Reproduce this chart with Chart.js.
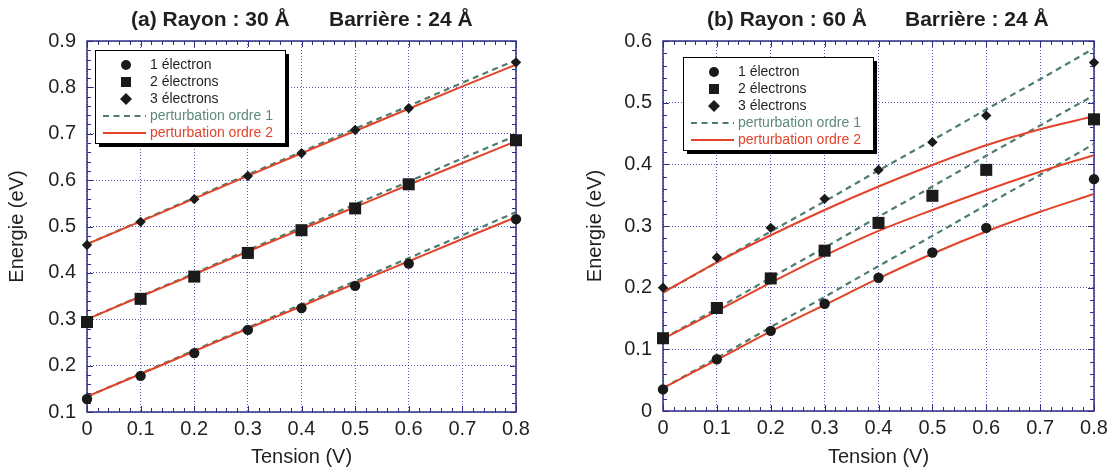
<!DOCTYPE html>
<html>
<head>
<meta charset="utf-8">
<script src="https://cdn.jsdelivr.net/npm/chart.js@4.4.0/dist/chart.umd.min.js"></script>
<style>
html, body { margin: 0; padding: 0; background: #fff; }
#wrap { position: relative; width: 1115px; height: 471px; }
.box { position: absolute; top: 0; height: 471px; }
</style>
</head>
<body>
<div id="wrap">
  <div class="box" style="left:0;width:560px"><canvas id="chartA" width="560" height="471"></canvas></div>
  <div class="box" style="left:560px;width:555px"><canvas id="chartB" width="555" height="471"></canvas></div>
</div>
<script>
// ===== données =====
var xTicks = [0, 0.1, 0.2, 0.3, 0.4, 0.5, 0.6, 0.7, 0.8];
var xTickLabels = ['0', '0.1', '0.2', '0.3', '0.4', '0.5', '0.6', '0.7', '0.8'];
var yTicksA = [0.1, 0.2, 0.3, 0.4, 0.5, 0.6, 0.7, 0.8, 0.9];
var yTickLabelsA = ['0.1', '0.2', '0.3', '0.4', '0.5', '0.6', '0.7', '0.8', '0.9'];
var yTicksB = [0, 0.1, 0.2, 0.3, 0.4, 0.5, 0.6];
var yTickLabelsB = ['0', '0.1', '0.2', '0.3', '0.4', '0.5', '0.6'];
var legendLabels = ['1 électron', '2 électrons', '3 électrons', 'perturbation ordre 1', 'perturbation ordre 2'];

// tensions des points mesurés (pas de point à 0.7)
var tensionPts = [0, 0.1, 0.2, 0.3, 0.4, 0.5, 0.6, 0.8];
// tensions des courbes
var tensionLine = [0, 0.1, 0.2, 0.3, 0.4, 0.5, 0.6, 0.7, 0.8];

// (a) Rayon 30 A
var a1e = [0.128, 0.178, 0.227, 0.277, 0.324, 0.372, 0.420, 0.516];
var a2e = [0.294, 0.344, 0.392, 0.443, 0.492, 0.539, 0.591, 0.686];
var a3e = [0.460, 0.510, 0.559, 0.609, 0.658, 0.708, 0.755, 0.854];
var a1eOrdre1 = [0.133, 0.183, 0.233, 0.282, 0.332, 0.382, 0.432, 0.481, 0.531];
var a1eOrdre2 = [0.133, 0.182, 0.231, 0.280, 0.328, 0.377, 0.425, 0.473, 0.520];
var a2eOrdre1 = [0.300, 0.350, 0.399, 0.449, 0.498, 0.548, 0.597, 0.647, 0.696];
var a2eOrdre2 = [0.300, 0.349, 0.397, 0.446, 0.494, 0.542, 0.590, 0.637, 0.684];
var a3eOrdre1 = [0.462, 0.512, 0.562, 0.612, 0.661, 0.711, 0.760, 0.810, 0.859];
var a3eOrdre2 = [0.462, 0.511, 0.560, 0.609, 0.658, 0.706, 0.754, 0.802, 0.849];

// (b) Rayon 60 A
var b1e = [0.035, 0.084, 0.130, 0.174, 0.216, 0.257, 0.297, 0.376];
var b2e = [0.118, 0.167, 0.215, 0.260, 0.305, 0.349, 0.391, 0.473];
var b3e = [0.200, 0.249, 0.297, 0.344, 0.391, 0.436, 0.479, 0.565];
var b1eOrdre1 = [0.037, 0.086, 0.136, 0.185, 0.235, 0.284, 0.334, 0.383, 0.433];
var b1eOrdre2 = [0.037, 0.083, 0.129, 0.172, 0.215, 0.255, 0.291, 0.323, 0.352];
var b2eOrdre1 = [0.117, 0.166, 0.216, 0.265, 0.315, 0.364, 0.414, 0.463, 0.512];
var b2eOrdre2 = [0.117, 0.162, 0.208, 0.252, 0.292, 0.326, 0.358, 0.388, 0.415];
var b3eOrdre1 = [0.192, 0.241, 0.291, 0.340, 0.390, 0.439, 0.489, 0.538, 0.588];
var b3eOrdre2 = [0.192, 0.241, 0.285, 0.326, 0.364, 0.399, 0.431, 0.457, 0.478];

// ===== styles =====
var sFont = "'Liberation Sans', Arial, Helvetica, sans-serif";
var textColor = '#231f20';
var frameColor = '#2e2e85';
var gridColor = '#5a5abb';
var redColor = '#e2432b';
var greenColor = '#4f7d6d';
var greenText = '#5d8a78';
var markColor = '#1a1a1a';

function toXY(xs, ys) {
    var r = [];
    for (var i = 0; i < ys.length; i++) r.push({x: xs[i], y: ys[i]});
    return r;
}

// dessine un marqueur de légende
function drawMark(ctx, style, x, y) {
    ctx.fillStyle = markColor;
    ctx.beginPath();
    if (style === 'circle') {
        ctx.arc(x, y, 5, 0, Math.PI * 2);
    } else if (style === 'rect') {
        ctx.rect(x - 5, y - 5, 10, 10);
    } else {
        ctx.moveTo(x - 6, y); ctx.lineTo(x, y - 6); ctx.lineTo(x + 6, y); ctx.lineTo(x, y + 6);
        ctx.closePath();
    }
    ctx.fill();
}

// cadre, petites graduations, légende et titre
var decoPlugin = {
    id: 'deco',
    beforeDatasetsDraw: function (chart, args, opts) {
        var ctx = chart.ctx, a = chart.chartArea;
        var xs = chart.scales.x, ys = chart.scales.y;
        var i, p, len, n;
        ctx.save();
        ctx.strokeStyle = frameColor;
        ctx.lineWidth = 1;
        ctx.beginPath();
        n = Math.round((xs.max - xs.min) / 0.02);
        for (i = 0; i <= n; i++) {
            p = Math.round(xs.getPixelForValue(xs.min + i * 0.02)) + 0.5;
            len = (i % 5 === 0) ? 6 : 4;
            ctx.moveTo(p, a.bottom); ctx.lineTo(p, a.bottom - len);
            ctx.moveTo(p, a.top); ctx.lineTo(p, a.top + len);
        }
        n = Math.round((ys.max - ys.min) / 0.02);
        for (i = 0; i <= n; i++) {
            p = Math.round(ys.getPixelForValue(ys.min + i * 0.02)) + 0.5;
            len = (i % 5 === 0) ? 6 : 4;
            ctx.moveTo(a.left, p); ctx.lineTo(a.left + len, p);
            ctx.moveTo(a.right, p); ctx.lineTo(a.right - len, p);
        }
        ctx.stroke();
        ctx.lineWidth = 1.5;
        ctx.strokeRect(a.left, a.top, a.right - a.left, a.bottom - a.top);
        ctx.restore();
    },
    afterDraw: function (chart, args, opts) {
        var ctx = chart.ctx, a = chart.chartArea;
        ctx.save();
        // titre
        ctx.font = 'bold 21px ' + sFont;
        ctx.fillStyle = textColor;
        ctx.textBaseline = 'middle';
        ctx.textAlign = 'left';
        ctx.fillText(opts.title1, a.left + 44, 20);
        ctx.fillText(opts.title2, a.left + 242, 20);
        // légende
        var bx = a.left + opts.legX, by = a.top + opts.legY, bw = 190, bh = 93;
        ctx.fillStyle = '#000';
        ctx.fillRect(bx + 4, by + 4, bw, bh);
        ctx.fillStyle = '#fff';
        ctx.fillRect(bx, by, bw, bh);
        ctx.strokeStyle = '#000';
        ctx.lineWidth = 1;
        ctx.strokeRect(bx + 0.5, by + 0.5, bw, bh);
        ctx.font = '14px ' + sFont;
        var styles = ['circle', 'rect', 'diamond'];
        for (var i = 0; i < 5; i++) {
            var y = by + 15 + i * 17;
            if (i < 3) {
                drawMark(ctx, styles[i], bx + 31, y);
                ctx.fillStyle = textColor;
            } else {
                ctx.beginPath();
                ctx.lineWidth = 2.2;
                ctx.strokeStyle = i === 3 ? greenColor : redColor;
                ctx.setLineDash(i === 3 ? [6, 4.5] : []);
                ctx.moveTo(bx + 8, y); ctx.lineTo(bx + 51, y);
                ctx.stroke();
                ctx.setLineDash([]);
                ctx.fillStyle = i === 3 ? greenText : redColor;
            }
            ctx.fillText(legendLabels[i], bx + 55, y);
        }
        ctx.restore();
    }
};

function pointSet(label, ys, style, radius) {
    return {
        label: label, data: toXY(tensionPts, ys), showLine: false,
        pointStyle: style, pointRadius: radius, pointBackgroundColor: markColor,
        pointBorderColor: markColor, pointBorderWidth: 0, clip: false, order: 0
    };
}
function lineSet(label, ys, ordre) {
    return {
        label: label, data: toXY(tensionLine, ys), showLine: true, pointRadius: 0,
        borderColor: ordre === 1 ? greenColor : redColor, borderWidth: ordre === 1 ? 2.2 : 2,
        borderDash: ordre === 1 ? [6, 4.5] : [], cubicInterpolationMode: 'monotone',
        fill: false, order: ordre === 1 ? 2 : 1
    };
}

function makeChart(id, cfg) {
    var ctx = document.getElementById(id);
    return new Chart(ctx, {
        type: 'scatter',
        data: {
            datasets: [
                pointSet(legendLabels[0], cfg.p1, 'circle', 5.2),
                pointSet(legendLabels[1], cfg.p2, 'rect', 8.5),
                pointSet(legendLabels[2], cfg.p3, 'rectRot', 5.2),
                lineSet(legendLabels[4], cfg.l1o2, 2),
                lineSet(legendLabels[4], cfg.l2o2, 2),
                lineSet(legendLabels[4], cfg.l3o2, 2),
                lineSet(legendLabels[3], cfg.l1o1, 1),
                lineSet(legendLabels[3], cfg.l2o1, 1),
                lineSet(legendLabels[3], cfg.l3o1, 1)
            ]
        },
        options: {
            responsive: false,
            animation: false,
            devicePixelRatio: 1,
            layout: { padding: { left: 0, right: cfg.padRight, top: 41, bottom: 0 } },
            plugins: {
                legend: { display: false },
                tooltip: { enabled: false },
                title: { display: false },
                deco: { title1: cfg.title1, title2: cfg.title2, legX: cfg.legX, legY: cfg.legY }
            },
            scales: {
                x: {
                    type: 'linear', min: 0, max: 0.8,
                    afterBuildTicks: function (scale) {
                        scale.ticks = xTicks.map(function (v) { return {value: v}; });
                    },
                    afterFit: function (scale) { scale.height = 471 - cfg.bottom; },
                    ticks: {
                        padding: 5, color: textColor, font: {family: sFont, size: 20},
                        maxRotation: 0, autoSkip: false,
                        callback: function (v, i) { return xTickLabels[i]; }
                    },
                    grid: { color: gridColor, lineWidth: 1, drawTicks: false },
                    border: { display: false, dash: [1, 2] },
                    title: {
                        display: true, text: 'Tension (V)', color: textColor,
                        font: {family: sFont, size: 20}, padding: {top: 0, bottom: 2}
                    }
                },
                y: {
                    type: 'linear', min: cfg.yTicks[0], max: cfg.yTicks[cfg.yTicks.length - 1],
                    afterBuildTicks: function (scale) {
                        scale.ticks = cfg.yTicks.map(function (v) { return {value: v}; });
                    },
                    afterFit: function (scale) { scale.width = cfg.left; },
                    ticks: {
                        padding: 11, color: textColor, font: {family: sFont, size: 20},
                        autoSkip: false,
                        callback: function (v, i) { return cfg.yLabels[i]; }
                    },
                    grid: { color: gridColor, lineWidth: 1, drawTicks: false },
                    border: { display: false, dash: [1, 2] },
                    title: {
                        display: true, text: 'Energie (eV)', color: textColor,
                        font: {family: sFont, size: 20}, padding: {top: cfg.yTitlePad, bottom: 0}
                    }
                }
            }
        },
        plugins: [decoPlugin]
    });
}

makeChart('chartA', {
    p1: a1e, p2: a2e, p3: a3e,
    l1o1: a1eOrdre1, l2o1: a2eOrdre1, l3o1: a3eOrdre1,
    l1o2: a1eOrdre2, l2o2: a2eOrdre2, l3o2: a3eOrdre2,
    yTicks: yTicksA, yLabels: yTickLabelsA,
    title1: '(a) Rayon : 30 Å', title2: 'Barrière : 24 Å',
    left: 87, padRight: 44, bottom: 412, yTitlePad: 5.5, legX: 8, legY: 9
});
makeChart('chartB', {
    p1: b1e, p2: b2e, p3: b3e,
    l1o1: b1eOrdre1, l2o1: b2eOrdre1, l3o1: b3eOrdre1,
    l1o2: b1eOrdre2, l2o2: b2eOrdre2, l3o2: b3eOrdre2,
    yTicks: yTicksB, yLabels: yTickLabelsB,
    title1: '(b) Rayon : 60 Å', title2: 'Barrière : 24 Å',
    left: 103, padRight: 21, bottom: 411, yTitlePad: 23, legX: 20, legY: 16
});
</script>
</body>
</html>
